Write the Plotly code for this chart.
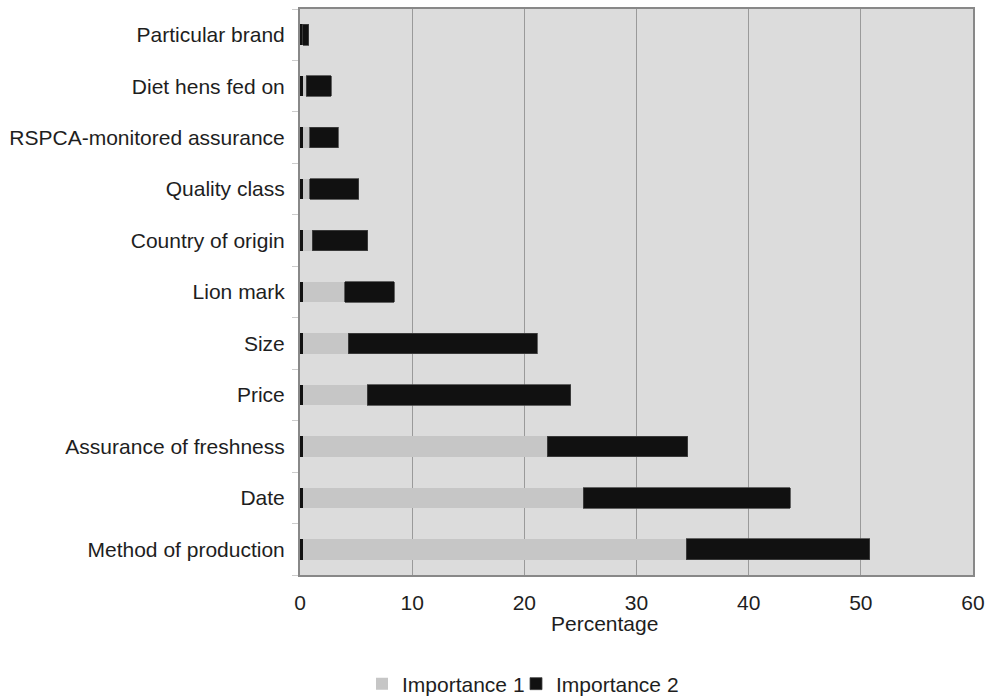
import plotly.graph_objects as go

categories = ["Method of production", "Date", "Assurance of freshness", "Price", "Size",
              "Lion mark", "Country of origin", "Quality class", "RSPCA-monitored assurance",
              "Diet hens fed on", "Particular brand"]
base_sliver = [0.25, 0.25, 0.25, 0.25, 0.25, 0.25, 0.25, 0.25, 0.25, 0.25, 0.25]
importance1 = [34.2, 25.0, 21.8, 5.75, 4.03, 3.75, 0.82, 0.61, 0.61, 0.32, 0.0]
importance2 = [16.34, 18.45, 12.51, 18.15, 16.87, 4.38, 4.99, 4.37, 2.56, 2.22, 0.55]
x_ticks = [0, 10, 20, 30, 40, 50, 60]

W, H = 990, 699
L, R, T, B = 300, 973, 9, 575


def px_x(p):
    return (p - L) / (R - L)


def px_y(p):
    return (B - p) / (B - T)


fig = go.Figure()
fig.add_trace(go.Bar(y=categories, x=base_sliver, orientation="h", name="",
                     marker=dict(color="#111111", line=dict(width=0)),
                     showlegend=False, width=0.4))
fig.add_trace(go.Bar(y=categories, x=importance1, orientation="h", name="Importance 1",
                     marker=dict(color="#c6c6c6", line=dict(width=0)), width=0.4,
                     legend="legend"))
fig.add_trace(go.Bar(y=categories, x=importance2, orientation="h", name="Importance 2",
                     marker=dict(color="#111111", line=dict(width=0.8, color="#444444")), width=0.4,
                     legend="legend2"))

legend_common = dict(orientation="h", xanchor="left", yanchor="middle",
                     font=dict(size=21), itemwidth=30, bgcolor="rgba(0,0,0,0)",
                     borderwidth=0)

fig.update_layout(
    barmode="stack",
    width=W, height=H,
    margin=dict(l=L, r=W - R, t=T, b=H - B, pad=0, autoexpand=False),
    paper_bgcolor="white",
    plot_bgcolor="#dcdcdc",
    font=dict(family="Liberation Sans, Arial, sans-serif", size=21, color="#1e1e1e"),
    legend=dict(x=px_x(362), y=px_y(684), **legend_common),
    legend2=dict(x=px_x(516), y=px_y(684), **legend_common),
    xaxis=dict(range=[0, 60], tickvals=x_ticks, showgrid=True, gridcolor="#9a9a9a", gridwidth=1,
               showline=True, linecolor="#888888", linewidth=2, mirror=True,
               ticks="", zeroline=False, ticklabelstandoff=8),
    yaxis=dict(categoryorder="array", categoryarray=categories, showgrid=False,
               showline=True, linecolor="#888888", linewidth=2, mirror=True,
               ticks="outside", tickson="boundaries", ticklen=6, tickcolor="#cccccc",
               ticklabelstandoff=9),
    annotations=[dict(text="Percentage", xref="paper", yref="paper",
                      x=px_x(604), y=px_y(623),
                      xanchor="center", yanchor="middle", showarrow=False,
                      font=dict(size=21))],
)

fig.write_html("out.html", config={"displayModeBar": False},
               post_script="document.body.style.margin='0';document.body.style.overflow='hidden';")
